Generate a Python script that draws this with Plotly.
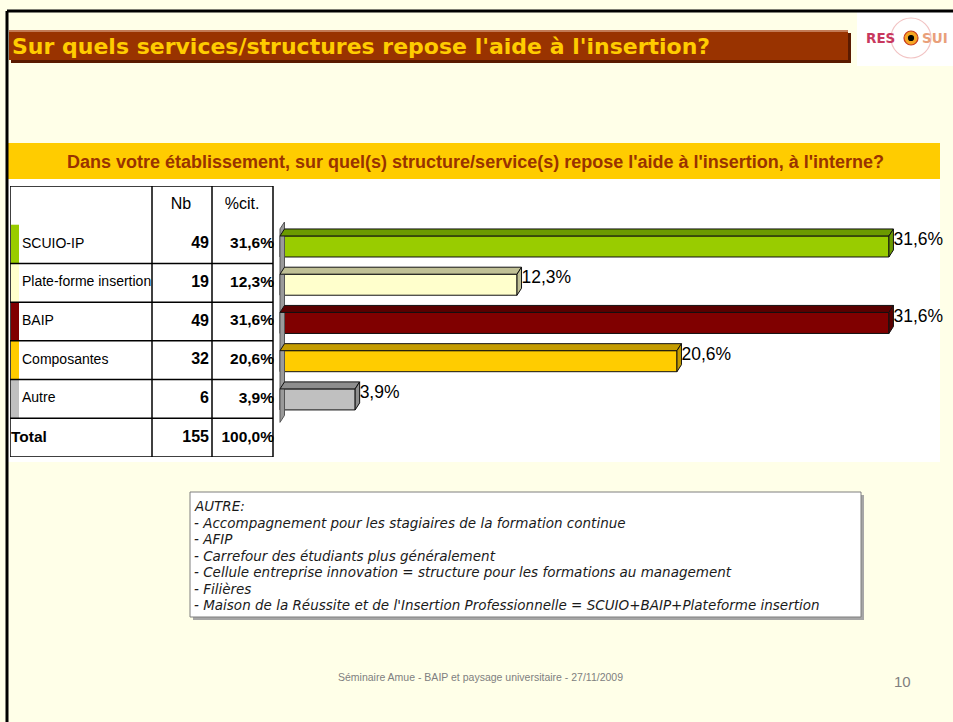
import plotly.graph_objects as go

# data
categories = ["SCUIO-IP", "Plate-forme insertion", "BAIP", "Composantes", "Autre"]
counts = [49, 19, 49, 32, 6]
percents = [31.6, 12.3, 31.6, 20.6, 3.9]
total_count = 155
total_percent = 100.0

front_colors = ["#99CC00", "#FFFFCC", "#800000", "#FFCC00", "#C0C0C0"]
top_colors = ["#6B9A00", "#C0C096", "#5A0000", "#C49C00", "#8E8E8E"]

title = "Sur quels services/structures repose l'aide à l'insertion?"
question = "Dans votre établissement, sur quel(s) structure/service(s) repose l'aide à l'insertion, à l'interne?"
comment_lines = [
    "AUTRE:",
    "- Accompagnement pour les stagiaires de la formation continue",
    "- AFIP",
    "- Carrefour des étudiants plus généralement",
    "- Cellule entreprise innovation = structure pour les formations au management",
    "- Filières",
    "- Maison de la Réussite et de l'Insertion Professionnelle = SCUIO+BAIP+Plateforme insertion",
]
footer = "Séminaire Amue - BAIP et paysage universitaire - 27/11/2009"
page_number = "10"

W, H = 953, 722
ARIAL = "Liberation Sans, Arial, sans-serif"
VERDANA = "DejaVu Sans, Verdana, sans-serif"


def fx(x):
    return x / W


def fy(y):
    return 1 - y / H


def fmt(p):
    return f"{p:.1f}".replace(".", ",") + "%"


fig = go.Figure()

# ---- 3D bar chart (x = %, y = row index) ----
px_per_pct = 19.27
dx = 4.5 / px_per_pct   # depth in x (data units)
dy = 7 / 38.25          # depth in y (row units)
half = 0.275
rows = list(range(len(categories)))

# side wall
fig.add_trace(go.Scatter(
    x=[0, dx, dx, 0, 0], y=[4.6, 4.6 - dy, -0.46 - dy, -0.46, 4.6],
    fill="toself", fillcolor="#9A9A9A", line=dict(color="#555", width=1),
    mode="lines", hoverinfo="skip", showlegend=False))

fig.add_trace(go.Bar(
    x=percents, y=rows, orientation="h", width=2 * half,
    marker=dict(color=front_colors, line=dict(color="#111", width=1)),
    hoverinfo="skip", showlegend=False))

for i, v in enumerate(percents):
    top = i - half
    bot = i + half
    fig.add_trace(go.Scatter(
        x=[0, dx, v + dx, v, 0], y=[top, top - dy, top - dy, top, top],
        fill="toself", fillcolor=top_colors[i], line=dict(color="#111", width=1),
        mode="lines", hoverinfo="skip", showlegend=False))
    fig.add_trace(go.Scatter(
        x=[v, v + dx, v + dx, v, v], y=[top, top - dy, bot - dy, bot, top],
        fill="toself", fillcolor=top_colors[i], line=dict(color="#111", width=1),
        mode="lines", hoverinfo="skip", showlegend=False))

fig.add_trace(go.Scatter(
    x=[v + dx for v in percents], y=[i - 0.15 for i in rows],
    text=[fmt(v) for v in percents], mode="text", textposition="middle right",
    textfont=dict(family=ARIAL, size=17.5, color="#000"),
    cliponaxis=False, hoverinfo="skip", showlegend=False))

# ---- table (x = pixels inside the table, y = row index, header = -1, total = 5) ----
table_rows = rows + [len(rows)]
fig.add_trace(go.Bar(
    x=[8] * len(rows), base=[1] * len(rows), y=rows, orientation="h", width=1,
    marker=dict(color=front_colors, line=dict(width=0)),
    xaxis="x2", yaxis="y2", hoverinfo="skip", showlegend=False))

fig.add_trace(go.Scatter(
    x=[12] * len(rows), y=rows, text=categories, mode="text",
    textposition="middle right", textfont=dict(family=ARIAL, size=14, color="#000"),
    xaxis="x2", yaxis="y2", cliponaxis=False, hoverinfo="skip", showlegend=False))
fig.add_trace(go.Scatter(
    x=[1], y=[len(rows)], text=["<b>Total</b>"], mode="text",
    textposition="middle right", textfont=dict(family=ARIAL, size=15.5, color="#000"),
    xaxis="x2", yaxis="y2", cliponaxis=False, hoverinfo="skip", showlegend=False))
fig.add_trace(go.Scatter(
    x=[199] * len(table_rows), y=table_rows,
    text=[f"<b>{c}</b>" for c in counts + [total_count]], mode="text",
    textposition="middle left", textfont=dict(family=ARIAL, size=16, color="#000"),
    xaxis="x2", yaxis="y2", cliponaxis=False, hoverinfo="skip", showlegend=False))
fig.add_trace(go.Scatter(
    x=[264] * len(table_rows), y=table_rows,
    text=[f"<b>{fmt(p)}</b>" for p in percents + [total_percent]], mode="text",
    textposition="middle left", textfont=dict(family=ARIAL, size=15.5, color="#000"),
    xaxis="x2", yaxis="y2", cliponaxis=False, hoverinfo="skip", showlegend=False))
fig.add_trace(go.Scatter(
    x=[171, 232], y=[-1, -1], text=["Nb", "%cit."], mode="text",
    textposition="middle center", textfont=dict(family=ARIAL, size=16, color="#000"),
    xaxis="x2", yaxis="y2", cliponaxis=False, hoverinfo="skip", showlegend=False))

shapes = []


def rect(x0, y0, x1, y1, fill, line=None, lw=0, layer="below"):
    shapes.append(dict(type="rect", xref="paper", yref="paper",
                       x0=fx(x0), x1=fx(x1), y0=fy(y1), y1=fy(y0),
                       fillcolor=fill, line=dict(color=line or fill, width=lw), layer=layer))


# backgrounds
rect(8, 179, 940, 462, "#FFFFFF")
rect(8, 143, 940, 179, "#FFCC00")
# title bar
rect(11, 33, 851, 63, "#5A1A00")
rect(9, 30, 848, 60, "#993300")
rect(9, 30, 848, 32, "#C27A55")
# logo block
rect(857, 12, 953, 66, "#FFFFFF")
# comment box
rect(193, 495, 864, 620, "#A6A6A6")
rect(190, 492, 861, 617, "#FFFFFF", "#7F7F7F", 1)

# page frame
shapes.append(dict(type="line", xref="paper", yref="paper", x0=fx(7), x1=1, y0=fy(11), y1=fy(11),
                   line=dict(color="#000", width=3)))
shapes.append(dict(type="line", xref="paper", yref="paper", x0=fx(7), x1=fx(7), y0=fy(11), y1=0,
                   line=dict(color="#000", width=3)))

# table grid
for yv in [-1.5] + [r + 0.5 for r in table_rows]:
    shapes.append(dict(type="line", xref="x2", yref="y2", x0=0, x1=263, y0=yv, y1=yv,
                       line=dict(color="#000", width=1.5)))
for xv in [0, 142, 202, 263]:
    shapes.append(dict(type="line", xref="x2", yref="y2", x0=xv, x1=xv, y0=-1.5, y1=5.5,
                       line=dict(color="#000", width=1.5)))

# logo circles
for r, fill, col in [(20, "rgba(0,0,0,0)", "#F2C4C4"), (7, "#F5A623", "#C83A20"), (2.5, "#000", "#000")]:
    shapes.append(dict(type="circle", xref="paper", yref="paper",
                       x0=fx(911 - r), x1=fx(911 + r), y0=fy(38 + r), y1=fy(38 - r),
                       fillcolor=fill, line=dict(color=col, width=1.2)))

annotations = [
    dict(x=fx(10), y=fy(46), text=f"<b>{title}</b>", xanchor="left", yanchor="middle",
         font=dict(family=VERDANA, size=22, color="#FFCC00")),
    dict(x=fx(475), y=fy(162), text=f"<b>{question}</b>", xanchor="center", yanchor="middle",
         font=dict(family=ARIAL, size=18, color="#993300")),
    dict(x=fx(864), y=fy(38), text="<b>RES</b>", xanchor="left", yanchor="middle",
         font=dict(family=VERDANA, size=13.5, color="#C8385E")),
    dict(x=fx(920), y=fy(38), text="<b>SUI</b>", xanchor="left", yanchor="middle",
         font=dict(family=VERDANA, size=13.5, color="#E9A07A")),
    dict(x=fx(481), y=fy(677), text=footer, xanchor="center", yanchor="middle",
         font=dict(family=ARIAL, size=10.5, color="#808080")),
    dict(x=fx(902), y=fy(681), text=page_number, xanchor="center", yanchor="middle",
         font=dict(family=ARIAL, size=15, color="#808080")),
]
for k, line in enumerate(comment_lines):
    annotations.append(dict(x=fx(192), y=fy(506 + k * 16.5), text=line, xanchor="left", yanchor="middle",
                            font=dict(family=VERDANA, size=13.5, color="#1A1A1A", style="italic")))
for a in annotations:
    a.update(xref="paper", yref="paper", showarrow=False)

hidden = dict(showgrid=False, zeroline=False, showticklabels=False, showline=False, ticks="")
fig.update_layout(
    width=W, height=H, margin=dict(l=0, r=0, t=0, b=0),
    paper_bgcolor="#FFFFE8", plot_bgcolor="rgba(0,0,0,0)",
    barmode="overlay",
    xaxis=dict(domain=[fx(270), fx(945)], range=[-10 / px_per_pct, 665 / px_per_pct], **hidden),
    yaxis=dict(domain=[fy(430), fy(222)], range=[4.8, -0.64], **hidden),
    xaxis2=dict(domain=[fx(10), fx(280)], range=[0, 270], anchor="y2", **hidden),
    yaxis2=dict(domain=[fy(457), fy(186)], range=[5.5, -1.5], anchor="x2", **hidden),
    shapes=shapes, annotations=annotations,
)

# the page body has a default 8px margin; remove it so the figure sits at the window origin
fig.write_html("out.html", config={"displayModeBar": False},
               post_script="document.body.style.margin='0px';")
